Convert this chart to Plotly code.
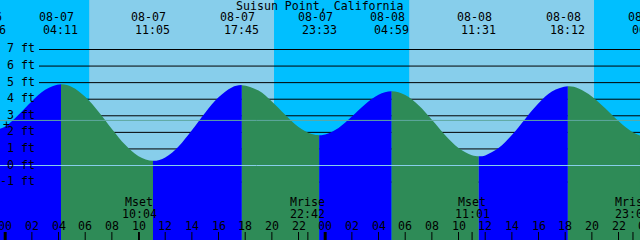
import plotly.graph_objects as go

# ---------------- data ----------------
TITLE = "Suisun Point, California"

# hourly tide heights (ft); hour 0 = 08-07 00:00
SAMPLE_HOURS = list(range(-1, 49))
TIDE_FT = [2.01, 2.36, 3.06, 3.88, 4.57, 4.89, 4.74, 4.15, 3.25, 2.21,
           1.25, 0.56, 0.28, 0.49, 1.15, 2.12, 3.19, 4.12, 4.71, 4.84,
           4.52, 3.86, 3.06, 2.33, 1.90, 1.87, 2.27, 2.95, 3.70, 4.27,
           4.48, 4.25, 3.63, 2.76, 1.83, 1.06, 0.62, 0.61, 1.05, 1.84,
           2.81, 3.75, 4.46, 4.77, 4.65, 4.17, 3.45, 2.68, 2.04, 1.72]

# high / low tide events
EVENT_DATES = ["08-06", "08-07", "08-07", "08-07", "08-07", "08-08", "08-08", "08-08", "08-09"]
EVENT_TIMES = ["22:46", "04:11", "11:05", "17:45", "23:33", "04:59", "11:31", "18:12", "00:20"]
EVENT_KIND = ["low", "high", "low", "high", "low", "high", "low", "high", "low"]
EVENT_FT = [2.0, 4.9, 0.28, 4.85, 1.83, 4.48, 0.56, 4.78, 1.7]

# moon events
MOON_NAMES = ["Mset", "Mrise", "Mset", "Mrise"]
MOON_DATES = ["08-07", "08-07", "08-08", "08-08"]
MOON_TIMES = ["10:04", "22:42", "11:01", "23:05"]

# sun events (day / night background)
SUN_DATES = ["08-07", "08-07", "08-08", "08-08"]
SUN_TIMES = ["06:18", "20:10", "06:18", "20:10"]

FT_TICKS = [7, 6, 5, 4, 3, 2, 1, 0, -1]
MSL_FT = 2.72
HOUR_TICKS = list(range(0, 50, 2))

# ---------------- styling / geometry ----------------
W, H = 640, 240
X0_PX = 5.2            # pixel of 08-07 00:00
PX_PER_H = 640 / 48
Y0_PX = 165.5          # pixel of 0 ft
PX_PER_FT = 116 / 7
XMIN = -X0_PX / PX_PER_H
XMAX = XMIN + W / PX_PER_H
YMAX = Y0_PX / PX_PER_FT
YMIN = YMAX - H / PX_PER_FT

DAY = "#87CEEB"
NIGHT = "#00BFFF"
RISE = "#0000FF"
FALL = "#2E8B57"
MSL_COLOR = "#5FA8A0"
DATUM_COLOR = "#87CEEB"
FONT = dict(family="DejaVu Sans Mono", size=11.6, color="black")


def to_hours(date, time):
    day = int(date[3:]) - 7
    hh, mm = time.split(":")
    return day * 24 + int(hh) + int(mm) / 60


def xfrac(h):
    return (h - XMIN) / (XMAX - XMIN)


def yfrac(px):
    return 1 - px / H


ev_h = [to_hours(d, t) for d, t in zip(EVENT_DATES, EVENT_TIMES)]
pts = [(h, v) for h, v in zip(SAMPLE_HOURS, TIDE_FT)
       if min(abs(h - e) for e in ev_h) > 0.3]
pts += list(zip(ev_h, EVENT_FT))
pts.sort()
cx = [p[0] for p in pts]
cy = [p[1] for p in pts]

fig = go.Figure()
fig.add_trace(go.Scatter(x=[XMIN, XMAX], y=[YMIN, YMAX], mode="none",
                         showlegend=False, hoverinfo="skip"))

bounds = [XMIN] + [e for e in ev_h if XMIN < e < XMAX] + [XMAX]
layout_axes = {}
for i in range(len(bounds) - 1):
    a, b = bounds[i], bounds[i + 1]
    nxt = [k for k, e in zip(EVENT_KIND, ev_h) if e > a + 1e-9][0]
    col = RISE if nxt == "high" else FALL
    ax = "x%d" % (i + 2)
    layout_axes["xaxis%d" % (i + 2)] = dict(domain=[xfrac(a), xfrac(b)], range=[a, b],
                                           visible=False, anchor="y", fixedrange=True)
    fig.add_trace(go.Scatter(x=[cx[0], cx[-1]], y=[YMIN - 3, YMIN - 3], mode="lines",
                             line=dict(width=0, color=col), xaxis=ax, yaxis="y",
                             showlegend=False, hoverinfo="skip"))
    fig.add_trace(go.Scatter(x=cx, y=cy, mode="lines",
                             line=dict(width=0, color=col, shape="spline"),
                             fill="tonexty", fillcolor=col, xaxis=ax, yaxis="y",
                             showlegend=False, hoverinfo="skip"))

shapes = []
# day / night bands
sun_h = [to_hours(d, t) for d, t in zip(SUN_DATES, SUN_TIMES)]
edges = [XMIN] + sun_h + [XMAX]
for i in range(len(edges) - 1):
    shapes.append(dict(type="rect", xref="x", yref="paper", x0=edges[i], x1=edges[i + 1],
                       y0=0, y1=1, fillcolor=NIGHT if i % 2 == 0 else DAY,
                       line=dict(width=0), layer="below"))
# grid lines
for v in FT_TICKS:
    shapes.append(dict(type="line", xref="paper", yref="y", x0=39 / W, x1=1, y0=v, y1=v,
                       line=dict(color="black", width=1), layer="below"))
# datum and mean sea level lines
shapes.append(dict(type="line", xref="paper", yref="y", x0=0, x1=1, y0=0, y1=0,
                   line=dict(color=DATUM_COLOR, width=1), layer="above"))
shapes.append(dict(type="line", xref="paper", yref="y", x0=0, x1=1, y0=MSL_FT, y1=MSL_FT,
                   line=dict(color=MSL_COLOR, width=1), layer="above"))
# hour ticks
for h in HOUR_TICKS:
    shapes.append(dict(type="line", xref="x", yref="paper", x0=h, x1=h, y0=0, y1=8 / H,
                       line=dict(color="black", width=3 if h % 24 == 0 else 1), layer="above"))
moon_h = [to_hours(d, t) for d, t in zip(MOON_DATES, MOON_TIMES)]
for h in moon_h:
    shapes.append(dict(type="line", xref="x", yref="paper", x0=h, x1=h, y0=0, y1=8 / H,
                       line=dict(color="black", width=1), layer="above"))

ann = []


def text(x, ypx, s, xanchor="center"):
    ann.append(dict(xref="paper", yref="paper", x=x, y=yfrac(ypx), text=s,
                    showarrow=False, xanchor=xanchor, yanchor="middle", font=FONT,
                    borderpad=0))


text(xfrac((319.5 - X0_PX) / PX_PER_H), 6, TITLE)
for h, d, t in zip(ev_h, EVENT_DATES, EVENT_TIMES):
    text(xfrac(h - 4 / PX_PER_H), 17.5, d)
    text(xfrac(h), 29.5, t)
for h, n, t in zip(moon_h, MOON_NAMES, MOON_TIMES):
    text(xfrac(h), 202, n)
    text(xfrac(h), 214, t)
for h in HOUR_TICKS:
    text(xfrac(h), 225.5, "%02d" % (h % 24))
for v in FT_TICKS:
    text(36 / W, Y0_PX - v * PX_PER_FT - 1, "%d ft" % v, xanchor="right")
text(6.7 / W, 125, "+")

fig.update_layout(
    width=W, height=H, margin=dict(l=0, r=0, t=0, b=0),
    paper_bgcolor=NIGHT, plot_bgcolor="rgba(0,0,0,0)", showlegend=False,
    xaxis=dict(range=[XMIN, XMAX], visible=False, fixedrange=True),
    yaxis=dict(range=[YMIN, YMAX], visible=False, fixedrange=True, anchor="x"),
    shapes=shapes, annotations=ann,
    **layout_axes,
)
fig.write_html("out.html")
